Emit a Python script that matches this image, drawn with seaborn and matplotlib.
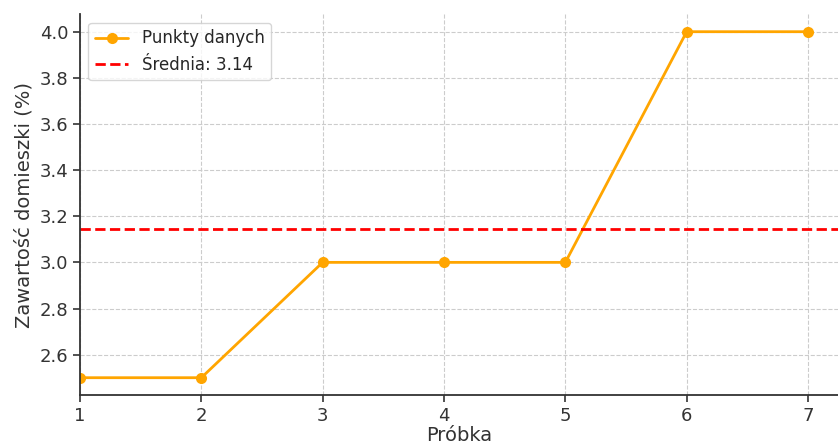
import numpy as np
import pandas as pd
import matplotlib
matplotlib.use("Agg")
import matplotlib.pyplot as plt
import seaborn as sns

# Measured impurity content per sample
samples = [1, 2, 3, 4, 5, 6, 7]
content = [2.5, 2.5, 3.0, 3.0, 3.0, 4.0, 4.0]
mean_value = float(np.mean(content))

df = pd.DataFrame({"Próbka": samples, "Zawartość": content})

sns.set_theme(style="ticks")
plt.rcParams["font.family"] = ["DejaVu Sans"]

fig = plt.figure(figsize=(8.38, 4.47), dpi=100)
ax = fig.add_axes([80 / 838, 52 / 447, 1 - 80 / 838, 380.6 / 447])

sns.lineplot(data=df, x="Próbka", y="Zawartość", ax=ax, color="orange",
             marker="o", markersize=8, markeredgewidth=0, linewidth=2,
             label="Punkty danych")
ax.axhline(mean_value, color="red", linestyle="--", linewidth=2,
           label=f"Średnia: {mean_value:.2f}")

ax.set_xlim(1, 7.247)
ax.set_ylim(2.425, 4.075)
ax.set_xticks(samples)
ax.set_yticks([2.6, 2.8, 3.0, 3.2, 3.4, 3.6, 3.8, 4.0])
ax.grid(True, linestyle="--", color="#cccccc", linewidth=0.8)
ax.tick_params(labelsize=13, colors="#333333", length=5, width=1.2)
for side in ("left", "bottom"):
    ax.spines[side].set_color("#333333")
    ax.spines[side].set_linewidth(1.3)
sns.despine(ax=ax)

ax.set_xlabel("Próbka", fontsize=14, color="#333333", labelpad=1)
ax.set_ylabel("Zawartość domieszki (%)", fontsize=14, color="#333333")
ax.legend(loc="upper left", fontsize=12, frameon=True, framealpha=0.8,
          edgecolor="#cccccc")

fig.savefig("out.png", dpi=100)
